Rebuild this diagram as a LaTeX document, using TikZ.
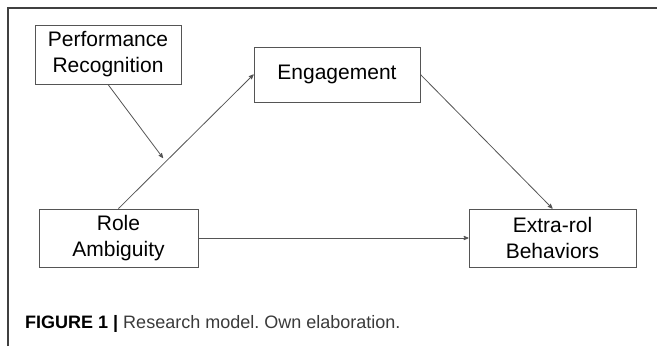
\documentclass[tikz,border=0pt]{standalone}
\usepackage{fontspec}
\setmainfont{Liberation Sans}
\usepackage{tikz}
\usetikzlibrary{arrows,positioning}
\definecolor{linegray}{HTML}{555555}
\definecolor{capgray}{HTML}{3A3A3A}
\frenchspacing
\tikzset{
    %Define standard arrow tip
    >=stealth',
    %Define style for boxes
    construct/.style={
           rectangle,
           draw=linegray, line width=0.9pt,
           inner sep=0pt,
           minimum height=58pt,
           font=\fontsize{21}{26}\selectfont,
           align=center,
           text=black},
    % Define arrow style
    pil/.style={
           ->,
           draw=linegray,
           line width=0.8pt}
}

\begin{document}
\begin{tikzpicture}[x=1pt,y=-1pt]
\useasboundingbox (0,0) rectangle (657,346);
% frame
\draw[line width=1.2pt, draw=black!75] (8,346) -- (8,8) -- (657,8);

\node[construct, minimum width=146pt, minimum height=59pt] (perf) at (108,54.5) {Performance\\Recognition};
\node[construct, minimum width=166pt, minimum height=55pt] (eng) at (337,74.5) {Engagement};
\node[construct, minimum width=159pt] (role) at (118.5,238) {Role\\Ambiguity};
\node[construct, minimum width=167pt] (extra) at (552.5,238) {Extra-rol\\Behaviors};
\coordinate (mod) at (163,158);

\path
    (role.north) edge[pil] (eng.west)
    (perf.south) edge[pil] (mod)
    (eng.east) edge[pil] (extra.north)
    (role.east) edge[pil] (extra.west);

\node[anchor=base west, inner sep=0pt, font=\fontsize{18}{21}\selectfont] (cap) at (25,328)
    {\textbf{FIGURE 1 |} \textcolor{capgray}{Research model. Own elaboration.}};
\end{tikzpicture}
\end{document}
